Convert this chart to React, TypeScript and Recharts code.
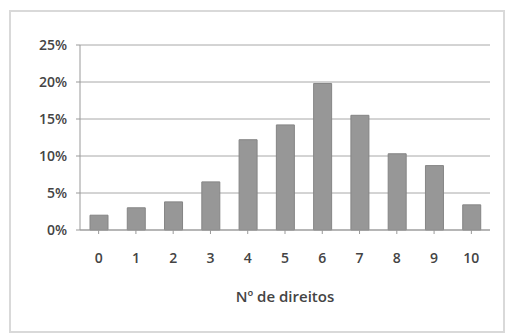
import { Bar, BarChart, CartesianGrid, XAxis, YAxis } from "recharts";

const categories = ["0", "1", "2", "3", "4", "5", "6", "7", "8", "9", "10"];
const shares = [2.0, 3.0, 3.8, 6.5, 12.2, 14.2, 19.8, 15.5, 10.3, 8.7, 3.4];
const yTicks = [0, 5, 10, 15, 20, 25];

const data = categories.map((name, i) => ({ name, value: shares[i] }));

const font = "'Open Sans', 'DejaVu Sans', sans-serif";
const tickStyle = { fill: "#444", fontSize: 14, fontFamily: font, fontWeight: 600 };

export default function App() {
  return (
    <div
      style={{
        position: "fixed",
        left: 0,
        top: 0,
        width: 507,
        height: 336,
        background: "#fff",
      }}
    >
      <BarChart
        width={507}
        height={336}
        data={data}
        barSize={18}
        margin={{ top: 45, right: 17, bottom: 26, left: 30 }}
      >
        <CartesianGrid vertical={false} stroke="#a8a8a8" />
        <XAxis
          dataKey="name"
          height={80}
          stroke="#999"
          tickSize={4}
          tickMargin={19}
          tick={tickStyle}
          label={{
            value: "Nº de direitos",
            position: "insideBottom",
            offset: 8,
            fill: "#444",
            fontSize: 15,
            fontWeight: 600,
            fontFamily: font,
          }}
        />
        <YAxis
          width={50}
          domain={[0, 25]}
          ticks={yTicks}
          stroke="#999"
          tickSize={4}
          tickMargin={9}
          tickFormatter={(v: number) => `${v}%`}
          tick={tickStyle}
        />
        <Bar
          dataKey="value"
          fill="#979797"
          stroke="#858585"
          isAnimationActive={false}
        />
      </BarChart>
      <div
        style={{
          position: "absolute",
          left: 9,
          top: 10,
          width: 492,
          height: 319,
          border: "2px solid #d9d9d9",
          pointerEvents: "none",
        }}
      />
    </div>
  );
}
